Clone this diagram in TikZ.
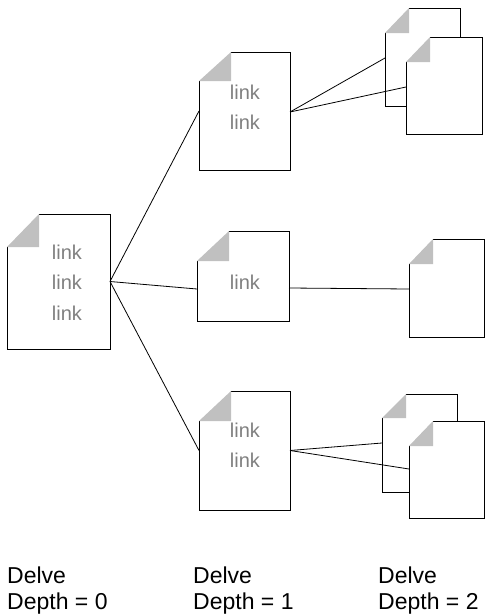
\documentclass[tikz,border=0pt]{standalone}
\usepackage{fontspec}
\setmainfont{Liberation Sans}
\newcommand{\docsheet}[7]{%
  % name, left, top, right, bottom, fold x, fold y
  \fill[white] (#6,#3) -- (#4,#3) -- (#4,#5) -- (#2,#5) -- (#2,#7) -- cycle;
  \draw[pagerule] (#6,#3) -- (#4,#3) -- (#4,#5) -- (#2,#5) -- (#2,#7);
  \fill[foldgray] (#2,#7) -- (#6,#3) -- (#6,#7) -- cycle;
  \node[sheetarea,fit={(#2,#3) (#4,#5)}] (#1) {};
}
\usetikzlibrary{fit}
\definecolor{foldgray}{RGB}{192,192,192}
\definecolor{linkgray}{RGB}{128,128,128}
\tikzset{
  pagerule/.style={draw=black,line width=1pt,line join=miter},
  sheetarea/.style={inner sep=0pt,outer sep=0pt,draw=none},
  linktext/.style={text=linkgray,font=\fontsize{20}{20}\selectfont,inner sep=0pt},
  conn/.style={draw=black,line width=0.8pt},
  caption/.style={anchor=west,align=left,inner sep=0pt,font=\fontsize{23}{26}\selectfont},
}
\begin{document}
\begin{tikzpicture}[x=1pt,y=-1pt]
\useasboundingbox (0,0) rectangle (485,616);
\fill[white] (0,0) rectangle (485,616);
\docsheet{root}{7}{214}{110}{349}{39}{247}
\docsheet{a}{199}{52}{290}{170}{231}{81}
\docsheet{b}{197}{231}{289}{321}{229}{261}
\docsheet{c}{199}{391}{290}{510}{231}{421}
\docsheet{aa}{385}{8}{460}{106}{409}{33}
\docsheet{ab}{406}{37}{482}{134}{430}{62}
\docsheet{ba}{409}{239}{484}{337}{433}{264}
\docsheet{ca}{382}{394}{457}{492}{406}{418}
\docsheet{cb}{409}{421}{484}{518}{433}{446}
\node[linktext] (r1) at (67,252.5) {link};
\node[linktext] (r2) at (67,282.5) {link};
\node[linktext] (r3) at (67,313.5) {link};
\node[linktext] (a1) at (245,92.5) {link};
\node[linktext] (a2) at (245,122.5) {link};
\node[linktext] (b1) at (245,282.5) {link};
\node[linktext] (c1) at (245,430.5) {link};
\node[linktext] (c2) at (245,460.5) {link};
\coordinate (rootout) at (root.east);
\coordinate (ain) at ([yshift=0pt]a.west);
\coordinate (aout) at ([yshift=-1pt]a.east);
\coordinate (bin) at ([yshift=-13pt]b.west);
\coordinate (bout) at ([yshift=-12pt]b.east);
\coordinate (cin) at ([yshift=0pt]c.west);
\coordinate (cout) at ([yshift=0pt]c.east);
\coordinate (aain) at ([yshift=-1pt]aa.west);
\coordinate (abin) at ([yshift=-1.5pt]ab.west);
\coordinate (bain) at ([yshift=-1pt]ba.west);
\coordinate (cain) at ([yshift=0pt]ca.west);
\coordinate (cbin) at ([yshift=0.5pt]cb.west);
\draw[conn] (rootout) -- (ain);
\draw[conn] (rootout) -- (bin);
\draw[conn] (rootout) -- (cin);
\draw[conn] (aout) -- (aain);
\draw[conn] (aout) -- (abin);
\draw[conn] (bout) -- (bain);
\draw[conn] (cout) -- (cain);
\draw[conn] (cout) -- (cbin);
\node[caption] (d0) at (7,590.5) {Delve\\Depth = 0};
\node[caption] (d1) at (193,590.5) {Delve\\Depth = 1};
\node[caption] (d2) at (378,590.5) {Delve\\Depth = 2};
\end{tikzpicture}
\end{document}
